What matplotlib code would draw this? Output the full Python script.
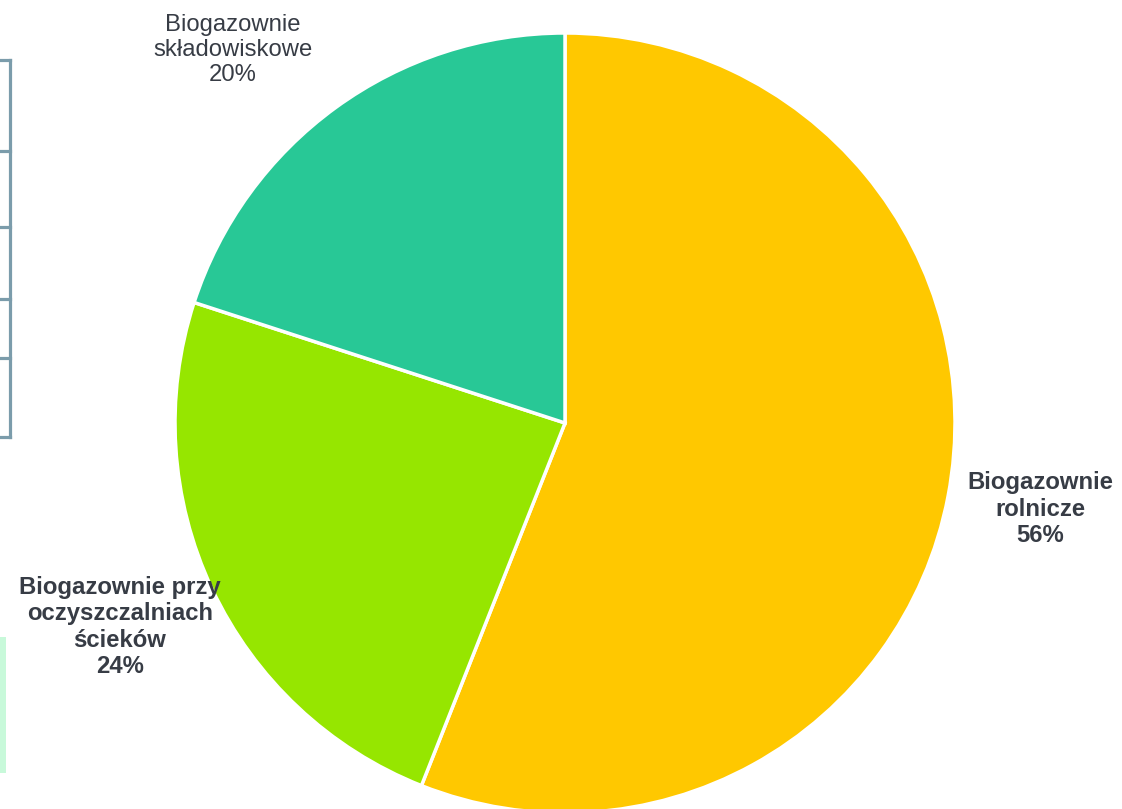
import matplotlib.pyplot as plt
from matplotlib.patches import Rectangle

plt.rcParams['font.family'] = ['Liberation Sans', 'DejaVu Sans']

# dane
labels = ['Biogazownie\nrolnicze', 'Biogazownie przy\noczyszczalniach\nścieków', 'Biogazownie\nskładowiskowe']
shares = [56, 24, 20]
colors = ['#FFC800', '#96E600', '#28C896']
bold = [True, True, False]
label_pos = [(1040, 300), (120, 182), (233, 759)]

W, H = 1122, 809
fig = plt.figure(figsize=(W / 100, H / 100), dpi=100)
ax = fig.add_axes([0, 0, 1, 1])
ax.set_xlim(0, W)
ax.set_ylim(0, H)
ax.set_aspect('equal')
ax.axis('off')

ax.pie(shares, colors=colors, startangle=90, counterclock=False,
       center=(565, H - 423), radius=390,
       wedgeprops=dict(edgecolor='white', linewidth=2.5))
ax.set_xlim(0, W)
ax.set_ylim(0, H)

for lab, val, (x, y), b in zip(labels, shares, label_pos, bold):
    ax.text(x, y, f'{lab}\n{val}%', ha='center', va='center', fontsize=17.2,
            color='#373c45', fontweight='bold' if b else 'normal',
            linespacing=1.17)

# resztki sąsiedniego wykresu przy lewej krawędzi
edge = '#7b9cab'
ax.plot([10, 10], [H - 60, H - 437], color=edge, lw=2.3, clip_on=False)
for yy in [60, 151, 227, 299, 358, 437]:
    ax.plot([0, 10], [H - yy, H - yy], color=edge, lw=2.3, clip_on=False)
ax.add_patch(Rectangle((0, H - 773), 6, 136, facecolor='#c8f9da', edgecolor='none'))

fig.savefig('out.png', dpi=100)
